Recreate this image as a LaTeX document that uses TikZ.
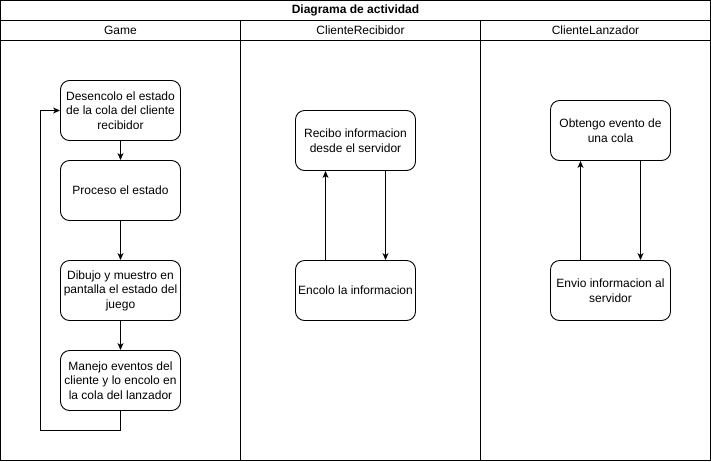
\documentclass[tikz,border=0pt]{standalone}
\usepackage{fontspec}
\setmainfont{Liberation Sans}
\usetikzlibrary{arrows.meta}
\begin{document}
\begin{tikzpicture}[x=1pt,y=-1pt,
  act/.style={draw, rounded corners=9pt, minimum width=120pt, minimum height=60pt, align=center, font=\fontsize{12}{14.5}\selectfont, line width=0.9pt, inner sep=1pt},
  flow/.style={draw, line width=0.9pt, -{Stealth[length=7pt,width=6pt,inset=2pt]}},
  lane/.style={draw, line width=0.9pt},
  hdr/.style={font=\fontsize{12}{14}\selectfont}
]
\useasboundingbox (0,0) rectangle (711,461);
% pool frame
\draw[lane] (0.5,0.5) rectangle (710.5,460.5);
\draw[lane] (0.5,20.5) -- (710.5,20.5);
\draw[lane] (0.5,40.5) -- (710.5,40.5);
\draw[lane] (240.5,20.5) -- (240.5,460.5);
\draw[lane] (480.5,20.5) -- (480.5,460.5);
\node[hdr, font=\fontsize{12}{14}\selectfont\bfseries] (title) at (355.5,10.5) {Diagrama de actividad};
\node[hdr] (h1) at (120.5,30.5) {Game};
\node[hdr] (h2) at (360.5,30.5) {ClienteRecibidor};
\node[hdr] (h3) at (595.5,30.5) {ClienteLanzador};
% Game lane
\node[act] (g1) at (120.5,110.5) {Desencolo el estado\\de la cola del cliente\\recibidor};
\node[act] (g2) at (120.5,190.5) {Proceso el estado};
\node[act] (g3) at (120.5,290.5) {Dibujo y muestro en\\pantalla el estado del\\juego};
\node[act] (g4) at (120.5,380.5) {Manejo eventos del\\cliente y lo encolo en\\la cola del lanzador};
\coordinate (c1) at (120.5,430.5);
\coordinate (c2) at (40.5,430.5);
\coordinate (c3) at (40.5,110.5);
\draw[flow] (g1) -- (g2);
\draw[flow] (g2) -- (g3);
\draw[flow] (g3) -- (g4);
\draw[flow] (g4.south) -- (c1) -- (c2) -- (c3) -- (g1.west);
% ClienteRecibidor lane
\node[act] (r1) at (355.5,140.5) {Recibo informacion\\desde el servidor};
\node[act] (r2) at (355.5,290.5) {Encolo la informacion};
\draw[flow] ([xshift=30pt]r1.south) -- ([xshift=30pt]r2.north);
\draw[flow] ([xshift=-30pt]r2.north) -- ([xshift=-30pt]r1.south);
% ClienteLanzador lane
\node[act] (l1) at (610.5,130.5) {Obtengo evento de\\una cola};
\node[act] (l2) at (610.5,290.5) {Envio informacion al\\servidor};
\draw[flow] ([xshift=30pt]l1.south) -- ([xshift=30pt]l2.north);
\draw[flow] ([xshift=-30pt]l2.north) -- ([xshift=-30pt]l1.south);
\end{tikzpicture}
\end{document}
